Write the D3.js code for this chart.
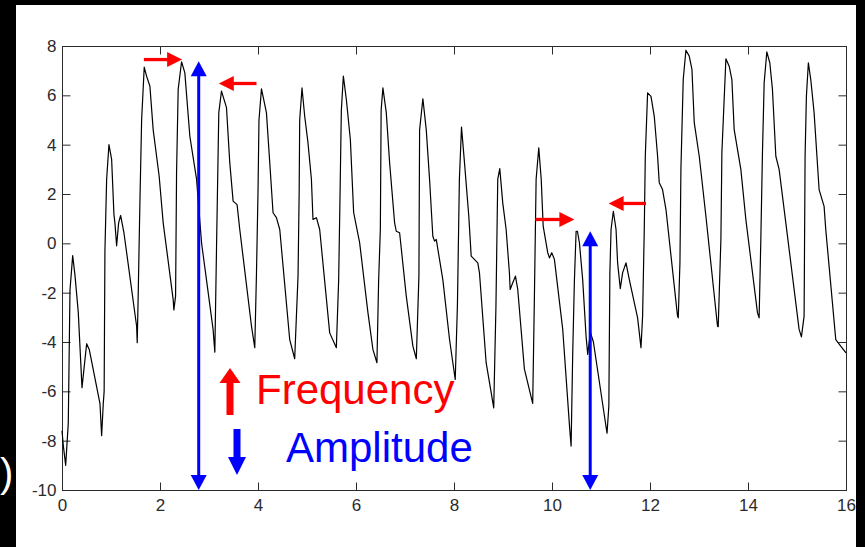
<!DOCTYPE html>
<html>
<head>
<meta charset="utf-8">
<script src="https://cdn.jsdelivr.net/npm/d3@7"></script>
<style>
body { margin: 0; background: #000; }
svg { display: block; }
.axis text { font-family: "Liberation Sans", Arial, sans-serif; font-size: 17px; fill: #2b2b2b; }
.axis line { stroke: #2b2b2b; }
.label { font-family: "Liberation Sans", Arial, sans-serif; font-size: 42px; }
</style>
</head>
<body>
<script>
// signal (time in s, amplitude)
var time = [
  0.000, 0.027, 0.075, 0.128, 0.163, 0.218, 0.265, 0.332, 0.408, 0.503, 0.556, 0.775, 0.809, 0.842, 0.860, 0.876, 0.911, 0.958,
  1.013, 1.060, 1.080, 1.115, 1.156, 1.196, 1.264, 1.523, 1.535, 1.555, 1.590, 1.625, 1.678, 1.726, 1.794, 1.861, 1.983,
  2.065, 2.269, 2.283, 2.318, 2.338, 2.371, 2.440, 2.507, 2.609, 2.746, 2.848, 3.084, 3.119, 3.153, 3.200, 3.255, 3.357,
  3.424, 3.492, 3.573, 3.628, 3.867, 3.934, 3.969, 4.001, 4.020, 4.071, 4.172, 4.240, 4.307, 4.376, 4.444, 4.647, 4.749,
  4.817, 4.840, 4.851, 4.898, 4.953, 5.020, 5.090, 5.122, 5.192, 5.259, 5.463, 5.599, 5.646, 5.677, 5.701, 5.742, 5.803,
  5.885, 5.952, 6.007, 6.074, 6.243, 6.345, 6.427, 6.462, 6.497, 6.513, 6.549, 6.618, 6.686, 6.788, 6.822, 6.890, 7.026,
  7.161, 7.231, 7.284, 7.298, 7.365, 7.434, 7.501, 7.568, 7.603, 7.638, 7.772, 7.909, 8.025, 8.070, 8.110, 8.153, 8.214,
  8.302, 8.351, 8.485, 8.520, 8.656, 8.811, 8.856, 8.893, 8.934, 8.995, 9.064, 9.131, 9.146, 9.199, 9.254, 9.301, 9.437,
  9.606, 9.641, 9.676, 9.730, 9.780, 9.820, 9.913, 9.948, 9.995, 10.049, 10.219, 10.360, 10.390, 10.423, 10.457, 10.492,
  10.519, 10.560, 10.626, 10.695, 10.729, 10.783, 10.845, 11.123, 11.160, 11.181, 11.205, 11.252, 11.307, 11.339, 11.394,
  11.441, 11.510, 11.578, 11.747, 11.816, 11.849, 11.883, 11.904, 11.951, 12.020, 12.087, 12.155, 12.189, 12.256, 12.326,
  12.562, 12.577, 12.611, 12.631, 12.678, 12.733, 12.801, 12.856, 12.903, 13.005, 13.141, 13.378, 13.392, 13.447, 13.467,
  13.549, 13.616, 13.671, 13.718, 13.854, 13.956, 14.193, 14.227, 14.262, 14.295, 14.330, 14.384, 14.445, 14.499, 14.568,
  14.635, 14.772, 15.043, 15.090, 15.145, 15.165, 15.192, 15.232, 15.281, 15.349, 15.451, 15.553, 15.587, 15.791, 15.892,
  16.000
];
var amplitude = [
  -7.6, -8.2, -9.0, -7.3, -1.9, -0.5, -1.3, -2.8, -5.85, -4.07, -4.3, -6.5, -7.8, -6.5, -6.0, -0.3, 2.6, 4.0,
  3.4, 1.17, 0.83, -0.1, 0.83, 1.13, 0.43, -3.36, -4.03, -2.1, 1.66, 5.0, 7.14, 6.78, 6.37, 4.6, 2.72,
  0.83, -2.28, -2.7, -2.14, 2.86, 6.24, 7.36, 6.91, 4.34, 2.6, 0.02, -3.5, -4.41, -0.25, 5.3, 6.17, 5.5,
  3.27, 1.71, 1.57, 0.56, -3.36, -4.23, -1.2, 2.18, 5.0, 6.26, 5.3, 3.27, 1.24, 1.04, 0.56, -3.9, -4.68,
  -1.33, 2.05, 5.0, 6.3, 5.15, 4.08, 2.6, 0.97, 1.04, 0.56, -3.63, -4.23, -1.5, 2.3, 5.4, 6.78, 5.83,
  4.2, 1.25, 0.7, 0.03, -2.8, -4.3, -4.84, -1.5, 0.56, 5.4, 6.3, 5.3, 3.27, 0.83, 0.49, 0.43, -2.14,
  -4.17, -4.68, -1.33, 4.6, 5.86, 4.6, 2.6, 0.29, 0.09, 0.16, -1.47, -3.9, -5.52, -2.5, 2.6, 4.71, 3.27,
  1.1, -0.52, -0.79, -1.2, -4.84, -6.67, -2.55, 2.6, 3.03, 1.64, 0.56, -1.2, -1.87, -1.6, -1.33, -1.87, -5.1,
  -6.49, -2.14, 2.6, 3.87, 2.6, 0.7, -0.38, -0.59, -0.38, -0.65, -3.49, -7.48, -8.22, -4.44, -1.53, 0.49,
  0.49, 0.02, -1.47, -3.76, -4.5, -3.6, -4.0, -7.7, -6.6, -1.2, 0.56, 1.3, 0.56, -0.79, -1.84,
  -1.2, -0.79, -1.47, -3.02, -4.23, -2.95, 0.56, 3.53, 6.1, 5.96, 5.15, 3.53, 2.46, 2.18, 1.37,
  -2.95, -3.02, -0.79, 3.0, 6.64, 7.83, 7.59, 7.05, 4.89, 3.53, 1.1, -3.36, -3.38, 0.16, 3.67,
  7.48, 7.18, 6.64, 4.61, 3.0, 0.97, -2.81, -3.02, 0.16, 3.67, 6.51, 7.76, 7.32, 6.24, 3.53,
  3.0, 0.83, -3.49, -3.79, -2.95, 3.53, 5.96, 7.32, 6.64, 5.3, 2.18, 1.5, 0.56, -3.9, -4.17,
  -4.44
];
var xTicks = [0, 2, 4, 6, 8, 10, 12, 14, 16];
var yTicks = [-10, -8, -6, -4, -2, 0, 2, 4, 6, 8];

// blue peak-to-bottom arrows and red period arrows, in chart units
var rangeArrows = [
  { t: 2.79, low: -10, high: 7.38 },
  { t: 10.78, low: -10, high: 0.49 }
];
var periodArrows = [
  { from: 1.671, to: 2.452, level: 7.45 },
  { from: 3.969, to: 3.200, level: 6.48 },
  { from: 9.661, to: 10.457, level: 0.967 },
  { from: 11.918, to: 11.156, level: 1.616 }
];

var width = 865, height = 547;

var svg = d3.select("body").append("svg")
    .attr("width", width)
    .attr("height", height);

var x = d3.scaleLinear().domain([0, 16]).range([62, 846]);
var y = d3.scaleLinear().domain([-10, 8]).range([490, 46]);

// plain hyphen minus, like the original plot
var plain = function(d) { return String(d); };

// white slide area
svg.append("rect")
    .attr("x", 16).attr("y", 5)
    .attr("width", 840).attr("height", 542)
    .attr("fill", "#fff");

svg.append("text")
    .attr("x", 0).attr("y", 487)
    .attr("fill", "#fff")
    .style("font-family", "Liberation Sans, Arial, sans-serif")
    .style("font-size", "40px")
    .text(")");

function drawAxes() {
  svg.append("g")
      .attr("class", "x axis")
      .attr("transform", "translate(0,490.5)")
      .call(d3.axisBottom(x).tickValues(xTicks).tickSizeInner(-8).tickSizeOuter(0).tickPadding(8).tickFormat(plain))
      .call(function(g) { g.select(".domain").remove(); });

  svg.append("g")
      .attr("class", "axis")
      .attr("transform", "translate(0,46.5)")
      .call(d3.axisTop(x).tickValues(xTicks).tickSizeInner(-8).tickSizeOuter(0).tickFormat(""))
      .call(function(g) { g.select(".domain").remove(); });

  svg.append("g")
      .attr("class", "y axis")
      .attr("transform", "translate(62.5,0)")
      .call(d3.axisLeft(y).tickValues(yTicks).tickSizeInner(-8).tickSizeOuter(0).tickPadding(6).tickFormat(plain))
      .call(function(g) { g.select(".domain").remove(); });

  svg.append("g")
      .attr("class", "axis")
      .attr("transform", "translate(846.5,0)")
      .call(d3.axisRight(y).tickValues(yTicks).tickSizeInner(-8).tickSizeOuter(0).tickFormat(""))
      .call(function(g) { g.select(".domain").remove(); });

  svg.append("rect")
      .attr("x", 62.5).attr("y", 46.5)
      .attr("width", 784).attr("height", 444)
      .attr("fill", "none")
      .attr("stroke", "#2b2b2b");
}

function drawSignal() {
  var line = d3.line()
      .x(function(d, i) { return x(time[i]); })
      .y(function(d) { return y(d); });

  svg.append("path")
      .datum(amplitude)
      .attr("fill", "none")
      .attr("stroke", "#000")
      .attr("stroke-width", 1.2)
      .attr("stroke-linejoin", "round")
      .attr("d", line);
}

function head(px, py, dx, dy, len, half) {
  // triangle with tip at (px,py) pointing along (dx,dy)
  var bx = px - dx * len, by = py - dy * len;
  return [[px, py], [bx - dy * half, by + dx * half], [bx + dy * half, by - dx * half]]
      .map(function(p) { return p.join(","); }).join(" ");
}

function drawArrows() {
  rangeArrows.forEach(function(a) {
    var cx = x(a.t), top = y(a.high), bottom = y(a.low);
    svg.append("line")
        .attr("x1", cx).attr("x2", cx)
        .attr("y1", top + 12).attr("y2", bottom - 12)
        .attr("stroke", "#0000ff")
        .attr("stroke-width", 3);
    svg.append("polygon").attr("points", head(cx, top, 0, -1, 15, 8)).attr("fill", "#0000ff");
    svg.append("polygon").attr("points", head(cx, bottom, 0, 1, 15, 8)).attr("fill", "#0000ff");
  });

  periodArrows.forEach(function(a) {
    var x1 = x(a.from), x2 = x(a.to), cy = y(a.level);
    var dir = x2 > x1 ? 1 : -1;
    svg.append("line")
        .attr("x1", x1).attr("x2", x2 - dir * 12)
        .attr("y1", cy).attr("y2", cy)
        .attr("stroke", "#ff0000")
        .attr("stroke-width", 3.3);
    svg.append("polygon").attr("points", head(x2, cy, dir, 0, 15, 7.5)).attr("fill", "#ff0000");
  });
}

function drawLegend() {
  // red block arrow up
  svg.append("rect")
      .attr("x", 226.5).attr("y", 382)
      .attr("width", 7).attr("height", 33)
      .attr("fill", "#ff0000");
  svg.append("polygon").attr("points", head(230, 368, 0, -1, 15, 10.5)).attr("fill", "#ff0000");

  // blue block arrow down
  svg.append("rect")
      .attr("x", 233.5).attr("y", 429)
      .attr("width", 7).attr("height", 30)
      .attr("fill", "#0000ff");
  svg.append("polygon").attr("points", head(237, 475, 0, 1, 18, 9)).attr("fill", "#0000ff");

  svg.append("text")
      .attr("class", "label")
      .attr("x", 256).attr("y", 404)
      .attr("fill", "#ff0000")
      .text("Frequency");

  svg.append("text")
      .attr("class", "label")
      .attr("x", 286).attr("y", 462)
      .attr("fill", "#0000ff")
      .text("Amplitude");
}

drawAxes();
drawSignal();
drawArrows();
drawLegend();
</script>
</body>
</html>
